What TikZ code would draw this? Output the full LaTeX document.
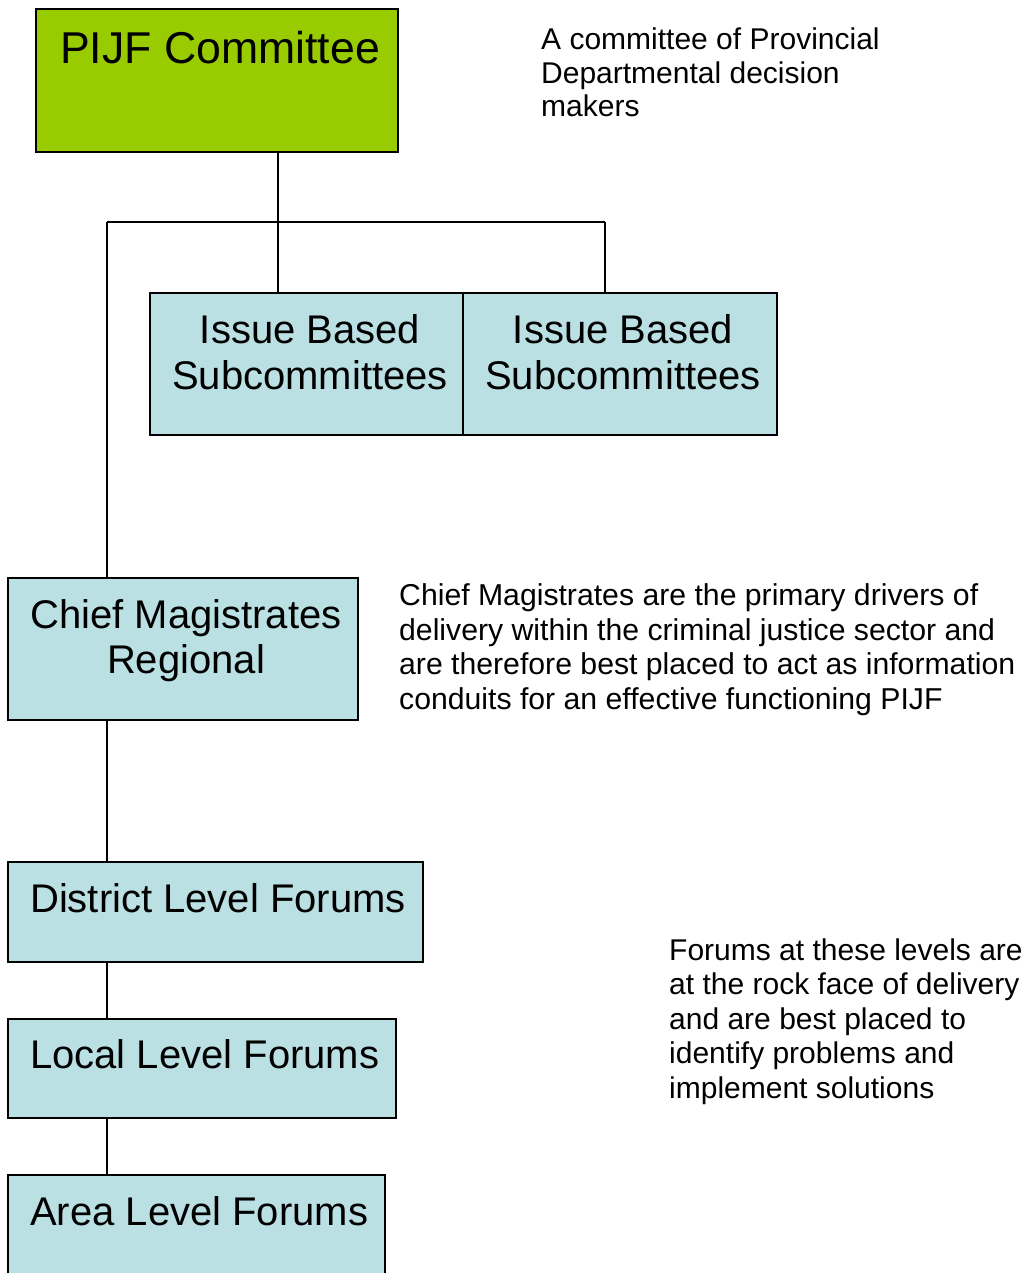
\documentclass[tikz,border=0pt]{standalone}
\usepackage{fontspec}
\setmainfont{Liberation Sans}
\definecolor{pijfgreen}{HTML}{99CC00}
\definecolor{boxblue}{HTML}{BAE0E3}
\begin{document}
\begin{tikzpicture}[x=1pt,y=-1pt,
  box/.style={draw=black,line width=1.6pt,fill=boxblue,rectangle,anchor=north west,inner sep=0pt,outer sep=0pt},
  conn/.style={draw=black,line width=1.6pt},
  lbl/.style={anchor=base,inner sep=0pt},
  desc/.style={anchor=base west,inner sep=0pt,font=\fontsize{30}{34}\selectfont}]
\useasboundingbox (0,0) rectangle (1027,1273);
% boxes
\node[box,fill=pijfgreen,minimum width=362pt,minimum height=143pt] (pijf) at (36,9) {};
\node[box,minimum width=313pt,minimum height=142pt] (sub1) at (150,293) {};
\node[box,minimum width=314pt,minimum height=142pt] (sub2) at (463,293) {};
\node[box,minimum width=350pt,minimum height=142pt] (chief) at (8,578) {};
\node[box,minimum width=415pt,minimum height=100pt] (dist) at (8,862) {};
\node[box,minimum width=388pt,minimum height=99pt] (loc) at (8,1019) {};
\node[box,minimum width=377pt,minimum height=115pt] (area) at (8,1175) {};
% junction coordinates
\coordinate (jL) at (107,222);
\coordinate (jM) at (278,222);
\coordinate (jR) at (605,222);
% connectors
\draw[conn] (jM |- pijf.south) -- (jM |- sub1.north);
\draw[conn] (jL) -- (jR);
\draw[conn] (jL) -- (jL |- chief.north);
\draw[conn] (jR) -- (jR |- sub2.north);
\draw[conn] (jL |- chief.south) -- (jL |- dist.north);
\draw[conn] (jL |- dist.south) -- (jL |- loc.north);
\draw[conn] (jL |- loc.south) -- (jL |- area.north);
% box labels
\node[anchor=base west,inner sep=0pt,font=\fontsize{44.6}{50}\selectfont] (t1) at (60,64) {PIJF Committee};
\node[lbl,font=\fontsize{40}{46}\selectfont] (t2) at (310,343) {Issue Based};
\node[lbl,font=\fontsize{40}{46}\selectfont] (t3) at (310,389) {Subcommittees};
\node[lbl,font=\fontsize{40}{46}\selectfont] (t4) at (623,343) {Issue Based};
\node[lbl,font=\fontsize{40}{46}\selectfont] (t5) at (623,389) {Subcommittees};
\node[lbl,font=\fontsize{40}{46}\selectfont] (t6) at (186,628) {Chief Magistrates};
\node[lbl,font=\fontsize{40}{46}\selectfont] (t7) at (186,673) {Regional};
\node[anchor=base west,inner sep=0pt,font=\fontsize{40}{46}\selectfont] (t8) at (30,912) {District Level Forums};
\node[anchor=base west,inner sep=0pt,font=\fontsize{40}{46}\selectfont] (t9) at (30,1068) {Local Level Forums};
\node[anchor=base west,inner sep=0pt,font=\fontsize{40}{46}\selectfont] (t10) at (30,1225) {Area Level Forums};
% descriptions
\node[desc] (d1) at (541,50) {A committee of Provincial};
\node[desc] (d2) at (541,84) {Departmental decision};
\node[desc] (d3) at (541,117) {makers};
\node[desc,font=\fontsize{30.2}{35}\selectfont] (d4) at (399,605) {Chief Magistrates are the primary drivers of};
\node[desc,font=\fontsize{30.2}{35}\selectfont] (d5) at (399,640) {delivery within the criminal justice sector and};
\node[desc,font=\fontsize{30.2}{35}\selectfont] (d6) at (399,674) {are therefore best placed to act as information};
\node[desc,font=\fontsize{30.2}{35}\selectfont] (d7) at (399,709) {conduits for an effective functioning PIJF};
\node[desc] (d8) at (669,960) {Forums at these levels are};
\node[desc] (d9) at (669,994) {at the rock face of delivery};
\node[desc] (d10) at (669,1029) {and are best placed to};
\node[desc] (d11) at (669,1063) {identify problems and};
\node[desc] (d12) at (669,1098) {implement solutions};
\end{tikzpicture}
\end{document}
